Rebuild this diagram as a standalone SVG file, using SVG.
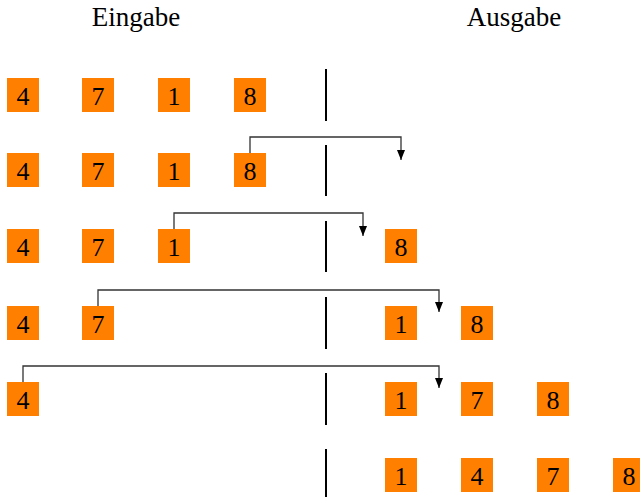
<svg xmlns="http://www.w3.org/2000/svg" width="640" height="497" viewBox="0 0 640 497">
<style>
.box{fill:#ff8000}
.num{font-family:"Liberation Serif","DejaVu Serif",serif;font-size:26px;fill:#000;text-anchor:middle}
.title{font-family:"Liberation Serif","DejaVu Serif",serif;font-size:27px;fill:#000;text-anchor:middle}
.sep{stroke:#000;stroke-width:2}
.arr{fill:none;stroke:#333;stroke-width:1.3}
</style>
<defs>
<marker id="ah" markerWidth="8" markerHeight="10" refX="4" refY="10" orient="0" markerUnits="userSpaceOnUse">
<path d="M0,0 L8,0 L4,10 Z" fill="#000"/>
</marker>
<g id="b"><rect class="box" x="0" y="0" width="32" height="34"/></g>
</defs>
<g id="titles">
<text class="title" x="136" y="26">Eingabe</text>
<text class="title" x="514" y="26">Ausgabe</text>
</g>
<g id="separators">
<line class="sep" x1="326" y1="69" x2="326" y2="121"/>
<line class="sep" x1="326" y1="145" x2="326" y2="196"/>
<line class="sep" x1="326" y1="221" x2="326" y2="272"/>
<line class="sep" x1="326" y1="297" x2="326" y2="349"/>
<line class="sep" x1="326" y1="373" x2="326" y2="425"/>
<line class="sep" x1="326" y1="449" x2="326" y2="497"/>
</g>
<g id="connectors">
<path class="arr" d="M250,153 V137 H401 V160" marker-end="url(#ah)"/>
<path class="arr" d="M174,229 V213 H363 V236" marker-end="url(#ah)"/>
<path class="arr" d="M98,306 V290 H439 V312" marker-end="url(#ah)"/>
<path class="arr" d="M23,382 V366 H439 V388" marker-end="url(#ah)"/>
</g>
<g id="row1">
<g id="r1a"><use href="#b" x="7" y="78"/><text class="num" x="23" y="105">4</text></g>
<g id="r1b"><use href="#b" x="82" y="78"/><text class="num" x="98" y="105">7</text></g>
<g id="r1c"><use href="#b" x="158" y="78"/><text class="num" x="174" y="105">1</text></g>
<g id="r1d"><use href="#b" x="234" y="78"/><text class="num" x="250" y="105">8</text></g>
</g>
<g id="row2">
<g id="r2a"><use href="#b" x="7" y="153"/><text class="num" x="23" y="180">4</text></g>
<g id="r2b"><use href="#b" x="82" y="153"/><text class="num" x="98" y="180">7</text></g>
<g id="r2c"><use href="#b" x="158" y="153"/><text class="num" x="174" y="180">1</text></g>
<g id="r2d"><use href="#b" x="234" y="153"/><text class="num" x="250" y="180">8</text></g>
</g>
<g id="row3">
<g id="r3a"><use href="#b" x="7" y="229"/><text class="num" x="23" y="256">4</text></g>
<g id="r3b"><use href="#b" x="82" y="229"/><text class="num" x="98" y="256">7</text></g>
<g id="r3c"><use href="#b" x="158" y="229"/><text class="num" x="174" y="256">1</text></g>
<g id="r3o1"><use href="#b" x="385" y="229"/><text class="num" x="401" y="256">8</text></g>
</g>
<g id="row4">
<g id="r4a"><use href="#b" x="7" y="306"/><text class="num" x="23" y="333">4</text></g>
<g id="r4b"><use href="#b" x="82" y="306"/><text class="num" x="98" y="333">7</text></g>
<g id="r4o1"><use href="#b" x="385" y="306"/><text class="num" x="401" y="333">1</text></g>
<g id="r4o2"><use href="#b" x="461" y="306"/><text class="num" x="477" y="333">8</text></g>
</g>
<g id="row5">
<g id="r5a"><use href="#b" x="7" y="382"/><text class="num" x="23" y="409">4</text></g>
<g id="r5o1"><use href="#b" x="385" y="382"/><text class="num" x="401" y="409">1</text></g>
<g id="r5o2"><use href="#b" x="461" y="382"/><text class="num" x="477" y="409">7</text></g>
<g id="r5o3"><use href="#b" x="537" y="382"/><text class="num" x="553" y="409">8</text></g>
</g>
<g id="row6">
<g id="r6o1"><use href="#b" x="385" y="458"/><text class="num" x="401" y="485">1</text></g>
<g id="r6o2"><use href="#b" x="461" y="458"/><text class="num" x="477" y="485">4</text></g>
<g id="r6o3"><use href="#b" x="537" y="458"/><text class="num" x="553" y="485">7</text></g>
<g id="r6o4"><use href="#b" x="613" y="458"/><text class="num" x="629" y="485">8</text></g>
</g>
</svg>
